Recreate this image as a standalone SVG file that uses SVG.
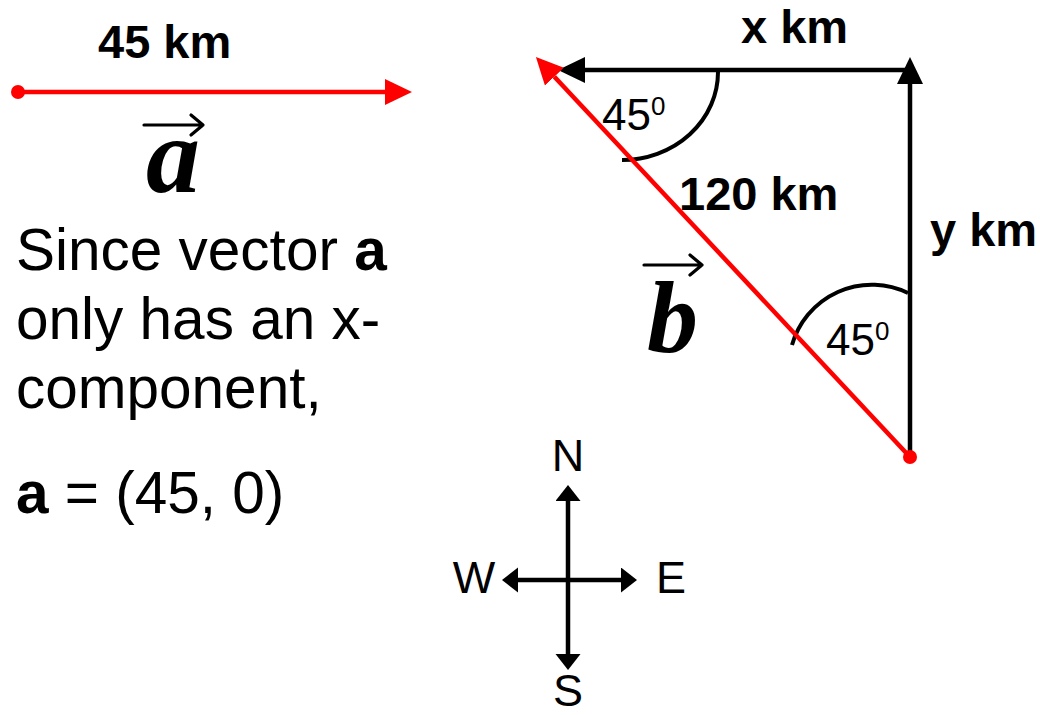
<svg xmlns="http://www.w3.org/2000/svg" width="1040" height="715" viewBox="0 0 1040 715">
<defs>
<style>
.lbl{font-family:"Liberation Sans",Arial,sans-serif;fill:#000}
.b{font-weight:bold;font-size:47px}
.body{font-size:58.5px}
.ang{font-size:44px}
.cmp{font-size:45px}
.vec{font-family:"Liberation Serif","Times New Roman",serif;font-weight:bold;font-style:italic;fill:#000}
.red{stroke:#ff0000;stroke-width:4.5;fill:none}
.blk{stroke:#000;stroke-width:4.5;fill:none}
.arc{stroke:#000;stroke-width:4;fill:none}
.ovr{stroke:#000;stroke-width:3.2;fill:none;stroke-linecap:round;stroke-linejoin:round}
</style>
<marker id="ahR" markerUnits="userSpaceOnUse" markerWidth="28" markerHeight="26" refX="0" refY="13" orient="auto"><path d="M0,0 L27,13 L0,26 z" fill="#ff0000"/></marker>
<marker id="ahK" markerUnits="userSpaceOnUse" markerWidth="28" markerHeight="26" refX="0" refY="13" orient="auto"><path d="M0,0 L27,13 L0,26 z" fill="#000"/></marker>
<marker id="ahC" markerUnits="userSpaceOnUse" markerWidth="18" markerHeight="26" refX="0" refY="12.5" orient="auto-start-reverse"><path d="M0,0 L16,12.5 L0,25 z" fill="#000"/></marker>
</defs>

<g id="vector-a">
<line class="red" x1="18" y1="92" x2="385" y2="92" marker-end="url(#ahR)"/>
<circle cx="18" cy="92" r="7" fill="#ff0000"/>
<text class="lbl b" x="98" y="58" font-size="48">45 km</text>
<path class="ovr" d="M144,125 H203 M191,115 L203,125 L191,135"/>
<text class="vec" x="146" y="192" font-size="108">a</text>
</g>

<g id="explanation">
<text class="lbl body" x="16" y="270">Since vector <tspan font-weight="bold">a</tspan></text>
<text class="lbl body" x="16" y="339">only has an x-</text>
<text class="lbl body" x="16" y="408">component,</text>
<text class="lbl body" x="16" y="513"><tspan font-weight="bold">a</tspan> = (45, 0)</text>
</g>

<g id="connectors">
<line class="blk" x1="910" y1="70" x2="585" y2="70" marker-end="url(#ahK)"/>
<line class="blk" x1="910" y1="457" x2="910" y2="84" marker-end="url(#ahK)"/>
<path class="arc" d="M718,72 A96,88 0 0 1 622,160"/>
<path class="arc" d="M908,293 A83,83 0 0 0 792,345"/>
<line class="red" x1="910" y1="457" x2="554.4" y2="76.7" marker-end="url(#ahR)"/>
<circle cx="910" cy="457" r="7" fill="#ff0000"/>
</g>

<g id="triangle-labels">
<text class="lbl b" x="741" y="43">x km</text>
<text class="lbl b" x="679" y="210">120 km</text>
<text class="lbl b" x="930" y="246">y km</text>
<text class="lbl ang" x="602" y="130">45<tspan font-size="26" dy="-15">0</tspan></text>
<text class="lbl ang" x="826" y="355">45<tspan font-size="26" dy="-15">0</tspan></text>
<path class="ovr" d="M644,265 H702 M690,255 L702,265 L690,275"/>
<text class="vec" x="647" y="352" font-size="102">b</text>
</g>

<g id="compass">
<line class="blk" x1="568" y1="501" x2="568" y2="654" marker-start="url(#ahC)" marker-end="url(#ahC)"/>
<line class="blk" x1="518" y1="580" x2="621" y2="580" marker-start="url(#ahC)" marker-end="url(#ahC)"/>
<text class="lbl cmp" x="568" y="471" text-anchor="middle">N</text>
<text class="lbl cmp" x="474" y="593" text-anchor="middle">W</text>
<text class="lbl cmp" x="656" y="593">E</text>
<text class="lbl cmp" x="568" y="706" text-anchor="middle" font-size="44">S</text>
</g>
</svg>
